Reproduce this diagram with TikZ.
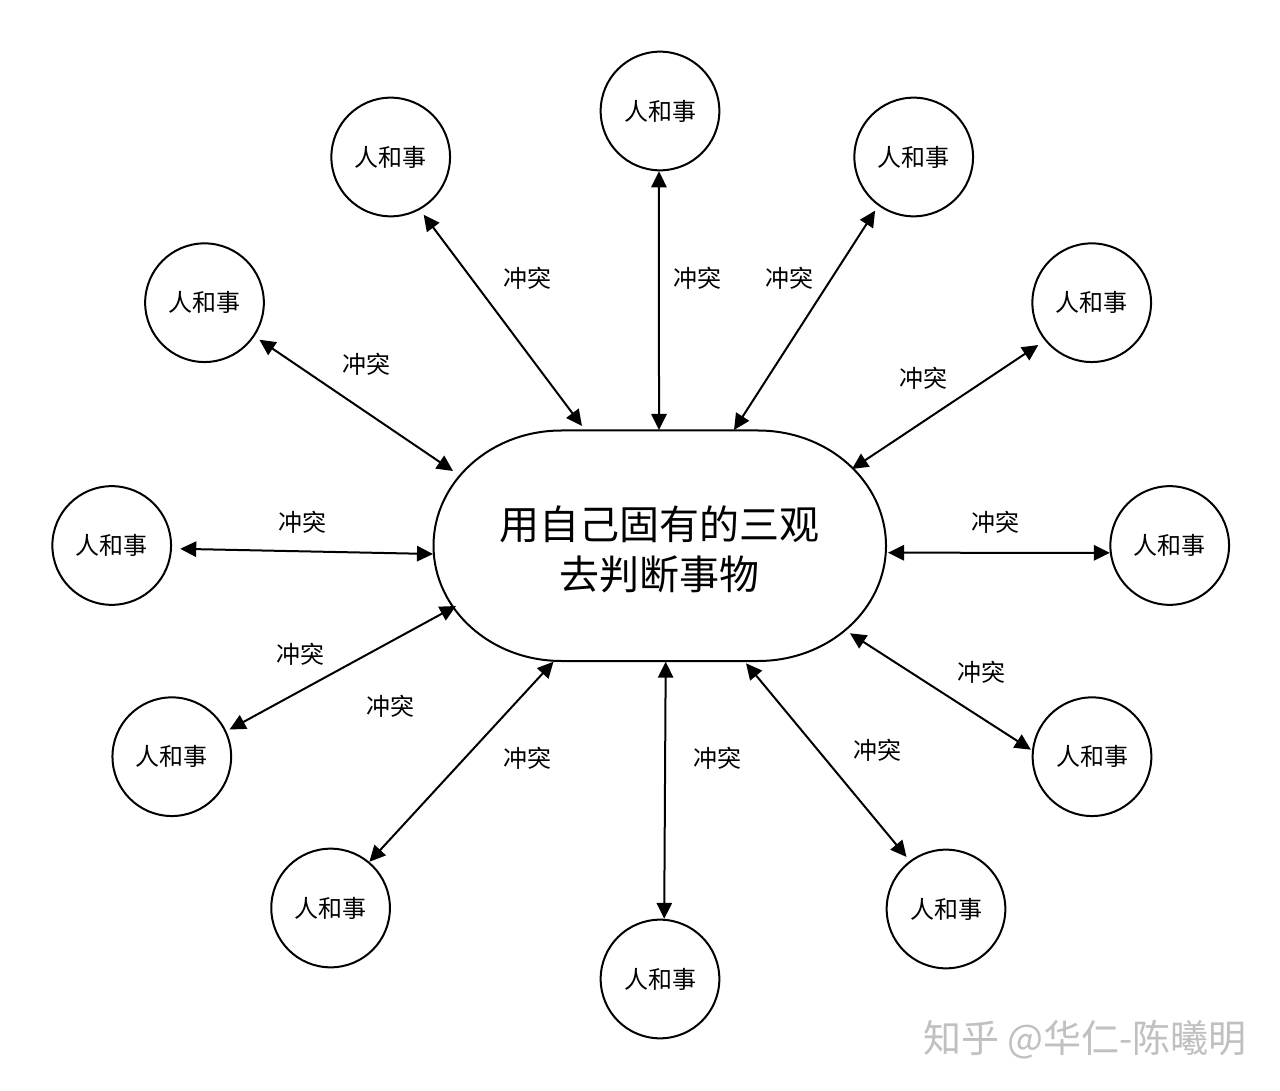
\documentclass[tikz,border=0pt]{standalone}
\usepackage{fontspec}
\setmainfont{Noto Sans CJK SC}
\usetikzlibrary{arrows.meta}
\definecolor{wmgray}{RGB}{192,192,192}
\begin{document}
\begin{tikzpicture}[x=0.75pt,y=0.75pt,
  pnode/.style={circle,draw,line width=1.5pt,minimum size=89pt,inner sep=0pt,
    font=\fontsize{18pt}{21pt}\selectfont},
  lab/.style={inner sep=0pt,font=\fontsize{18pt}{21pt}\selectfont},
  dbl/.style={line width=1.5pt,
    {Triangle[length=12pt,width=11.5pt]}-{Triangle[length=12pt,width=11.5pt]}},
  core/.style={align=center,inner sep=0pt,
    font=\fontsize{30pt}{37.5pt}\selectfont}]
\useasboundingbox (0,0) rectangle (1280,1090);
\fill[white] (0,0) rectangle (1280,1090);

% central terminator shape
\draw[line width=1.5pt] (561.5,659.5) -- (758,659.5)
  arc[start angle=90,end angle=-90,x radius=128,y radius=115.25]
  -- (561.5,429)
  arc[start angle=270,end angle=90,x radius=128,y radius=115.25] -- cycle;
\node[core] (core) at (659,541) {用自己固有的三观\\去判断事物};

% outer nodes
\node[pnode] (T)  at (660,979)    {人和事};
\node[pnode] (TL) at (390.7,933)  {人和事};
\node[pnode] (TR) at (913.7,933)  {人和事};
\node[pnode] (LU) at (204.5,787.3) {人和事};
\node[pnode] (RU) at (1091.7,787.3) {人和事};
\node[pnode] (L)  at (111.7,544.5) {人和事};
\node[pnode] (R)  at (1169.7,544.5) {人和事};
\node[pnode] (LL) at (171.8,333.3) {人和事};
\node[pnode] (RL) at (1092,333.3) {人和事};
\node[pnode] (BL) at (330.6,182)  {人和事};
\node[pnode] (BR) at (946,181)    {人和事};
\node[pnode] (B)  at (660,111)    {人和事};

% connector ends on the central shape
\coordinate (sTL) at (582,664);
\coordinate (sT)  at (659,660);
\coordinate (sTR) at (734,660);
\coordinate (sLU) at (453,619);
\coordinate (sRU) at (852,621);
\coordinate (sL)  at (433,536);
\coordinate (sR)  at (888,537.3);
\coordinate (sLL) at (456,484);
\coordinate (sRL) at (850,456.7);
\coordinate (sBL) at (553.5,428.3);
\coordinate (sB)  at (665.7,428.3);
\coordinate (sBR) at (746,426.7);

% connectors
\draw[dbl] (T.269) -- (sT);
\draw[dbl,shorten <=4.6pt] (TL.-61) -- (sTL);
\draw[dbl,shorten <=4.3pt] (TR.234) -- (sTR);
\draw[dbl,shorten <=4.4pt] (LU.-34) -- (sLU);
\draw[dbl,shorten <=5.9pt] (RU.219) -- (sRU);
\draw[dbl,shorten <=6.2pt] (L.-3) -- (sL);
\draw[dbl] (R.187) -- (sR);
\draw[dbl,shorten <=2.6pt] (LL.25) -- (sLL);
\draw[dbl,shorten <=1pt] (RL.174) -- (sRL);
\draw[dbl] (BL.50) -- (sBL);
\draw[dbl,shorten <=3.75pt] (BR.127) -- (sBR);
\draw[dbl] (B.86) -- (sB);

% labels
\node[lab] (l1)  at (527,812) {冲突};
\node[lab] (l2)  at (697,812) {冲突};
\node[lab] (l3)  at (789,812) {冲突};
\node[lab] (l4)  at (366,726) {冲突};
\node[lab] (l5)  at (923,712) {冲突};
\node[lab] (l6)  at (302,568) {冲突};
\node[lab] (l7)  at (995,568) {冲突};
\node[lab] (l8)  at (300,436) {冲突};
\node[lab] (l9)  at (390,384) {冲突};
\node[lab] (l10) at (527,332) {冲突};
\node[lab] (l11) at (717,332) {冲突};
\node[lab] (l12) at (981,418) {冲突};
\node[lab] (l13) at (877,340) {冲突};

% watermark
\node[inner sep=0pt,text=wmgray,font=\fontsize{28.5pt}{33pt}\selectfont] (wm) at (1085,50) {知乎 @华仁-陈曦明};
\end{tikzpicture}
\end{document}
